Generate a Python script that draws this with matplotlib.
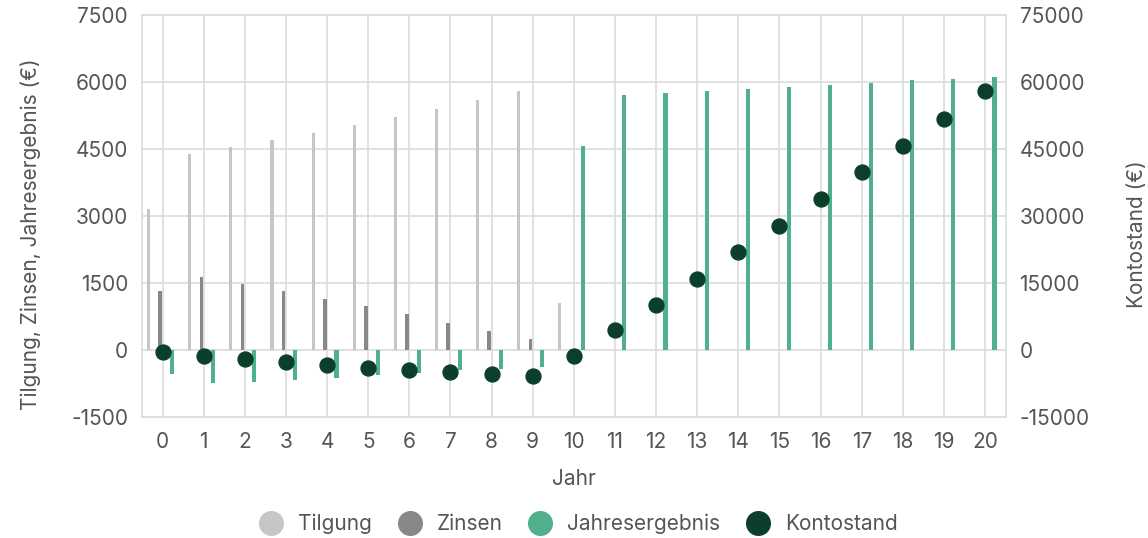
import numpy as np
import matplotlib.pyplot as plt
from matplotlib.lines import Line2D

plt.rcParams['font.family'] = ['Inter', 'DejaVu Sans']
plt.rcParams['axes.unicode_minus'] = False

# Werte
jahre = list(range(21))
tilgung = [3160, 4390, 4540, 4700, 4870, 5040, 5210, 5400, 5590, 5790, 1050,
           0, 0, 0, 0, 0, 0, 0, 0, 0, 0]
zinsen = [1310, 1630, 1480, 1310, 1150, 975, 805, 615, 435, 240, 20,
          0, 0, 0, 0, 0, 0, 0, 0, 0, 0]
jahresergebnis = [-540, -750, -715, -675, -625, -550, -525, -455, -415, -375, 4560,
                  5715, 5750, 5795, 5850, 5890, 5940, 5980, 6035, 6065, 6105]
kontostand = [-450, -1350, -2100, -2775, -3375, -3950, -4500, -5000, -5400, -5850, -1275,
              4450, 10125, 16000, 21900, 27750, 33750, 39750, 45750, 51750, 57900]

c_tilgung = '#c6c6c6'
c_zinsen = '#888888'
c_jahr = '#4fb08b'
c_konto = '#0b3f2b'
c_text = '#555555'
c_grid = '#dcdcdc'
fs = 15

x = np.arange(len(jahre))

fig = plt.figure(figsize=(11.48, 5.38), dpi=100)
ax = fig.add_axes([0.1237, 0.225, 0.7523, 0.747])

ax.bar(x - 0.34, tilgung, width=0.075, color=c_tilgung, zorder=3)
ax.bar(x - 0.056, zinsen, width=0.09, color=c_zinsen, zorder=3)
ax.bar(x + 0.23, jahresergebnis, width=0.1, color=c_jahr, zorder=3)

ax.set_xlim(-0.5, 20.5)
ax.set_ylim(-1500, 7500)
ax.set_yticks(np.arange(-1500, 7501, 1500))
ax.set_xticks(x)
ax.set_xticklabels([str(j) for j in jahre])
ax.grid(True, color=c_grid, linewidth=1.2, zorder=0)
ax.set_axisbelow(True)
for s in ax.spines.values():
    s.set_color(c_grid)
    s.set_linewidth(1.2)
ax.tick_params(axis='y', length=0, labelsize=fs, colors=c_text, pad=10)
ax.tick_params(axis='x', length=0, labelsize=fs, colors=c_text, pad=11)
ax.set_xlabel('Jahr', fontsize=fs, color=c_text, labelpad=12)
ax.set_ylabel('Tilgung, Zinsen, Jahresergebnis (€)', fontsize=fs, color=c_text)
ax.yaxis.set_label_coords(-0.117, 0.455)

ax2 = ax.twinx()
ax2.scatter(x, kontostand, s=115, color=c_konto, zorder=5)
ax2.set_ylim(-15000, 75000)
ax2.set_yticks(np.arange(-15000, 75001, 15000))
for s in ax2.spines.values():
    s.set_visible(False)
ax2.tick_params(length=0, labelsize=fs, colors=c_text, pad=10)
ax2.set_ylabel('Kontostand (€)', fontsize=fs, color=c_text)
ax2.yaxis.set_label_coords(1.141, 0.455)

handles = [Line2D([], [], marker='o', linestyle='', markersize=17, color=c)
           for c in (c_tilgung, c_zinsen, c_jahr, c_konto)]
fig.legend(handles, ['Tilgung', 'Zinsen', 'Jahresergebnis', 'Kontostand'],
           loc='lower center', bbox_to_anchor=(0.5, -0.028), ncol=4, frameon=False,
           fontsize=fs, labelcolor=c_text, handletextpad=0.3, columnspacing=0.8)

fig.savefig('out.png', dpi=100)
